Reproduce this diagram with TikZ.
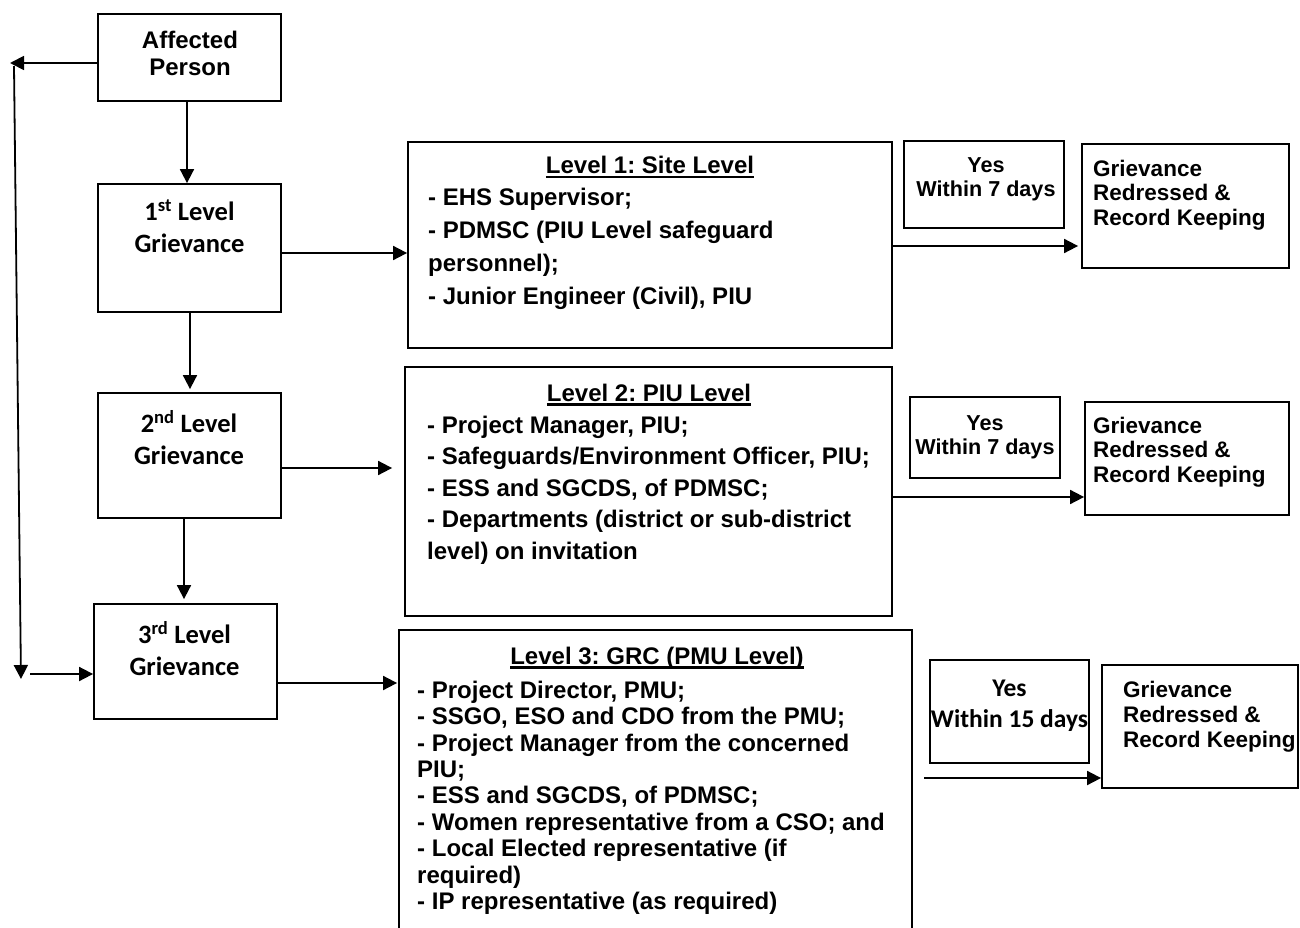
\documentclass[tikz,border=0pt]{standalone}
\usepackage{fontspec}
\setmainfont{Liberation Sans}
\newfontfamily\calfont{Carlito}
\usetikzlibrary{arrows.meta}
\frenchspacing
\newcommand\fl[1]{\rule{0pt}{#1pt}}
\newcommand\ultitle[1]{\setbox0\hbox{#1}\rlap{\rule[-4.5pt]{\wd0}{2.2pt}}\box0}
\begin{document}
\begin{tikzpicture}[x=1pt,y=-1pt,
  box/.style={draw, line width=1.8pt, inner sep=0pt},
  arr/.style={line width=1.8pt, -{Triangle[length=14pt,width=14pt]}},
  atxt/.style={inner sep=0pt, align=center, font=\fontsize{24}{27}\selectfont\bfseries},
  gtxt/.style={inner sep=0pt, align=center, font=\calfont\fontsize{26.5}{32}\selectfont\bfseries},
  ltitle/.style={inner sep=0pt, font=\fontsize{24}{28}\selectfont\bfseries},
  ltxt/.style={inner sep=0pt, align=left, font=\fontsize{24}{#1}\selectfont\bfseries},
  ytxt/.style={inner sep=0pt, align=center, font=\fontsize{21.6}{#1}\selectfont\bfseries},
  ycal/.style={inner sep=0pt, align=center, font=\calfont\fontsize{25.5}{#1}\selectfont\bfseries},
  rtxt/.style={inner sep=0pt, align=left, font=\fontsize{22.5}{#1}\selectfont\bfseries},
]
\useasboundingbox (0,0) rectangle (1300,928);
% boxes
\node[box, minimum width=183pt, minimum height=87pt]  (AP) at (189.5,57.5) {};
\node[box, minimum width=183pt, minimum height=128pt] (G1) at (189.5,248) {};
\node[box, minimum width=183pt, minimum height=125pt] (G2) at (189.5,455.5) {};
\node[box, minimum width=183pt, minimum height=115pt] (G3) at (185.5,661.5) {};
\node[box, minimum width=484pt, minimum height=206pt] (L1) at (650,245) {};
\node[box, minimum width=487pt, minimum height=249pt] (L2) at (648.5,491.5) {};
\node[box, minimum width=513pt, minimum height=305pt] (L3) at (655.5,782.5) {};
\node[box, minimum width=160pt, minimum height=87pt]  (Y1) at (984,184.5) {};
\node[box, minimum width=207pt, minimum height=124pt] (R1) at (1185.5,206) {};
\node[box, minimum width=150pt, minimum height=81pt]  (Y2) at (985,437.5) {};
\node[box, minimum width=204pt, minimum height=113pt] (R2) at (1187,458.5) {};
\node[box, minimum width=159pt, minimum height=103pt] (Y3) at (1009.5,711.5) {};
\node[box, minimum width=196pt, minimum height=123pt] (R3) at (1200,726.5) {};
% texts
\node[atxt, anchor=north] (APt) at (190,29) {\fl{19}Affected\\Person};
\node[gtxt, anchor=north] (G1t) at (189.5,200) {\fl{20}1\textsuperscript{st} Level\\Grievance};
\node[gtxt, anchor=north] (G2t) at (189,410) {\fl{20}2\textsuperscript{nd} Level\\Grievance};
\node[gtxt, anchor=north] (G3t) at (184.5,621) {\fl{20}3\textsuperscript{rd} Level\\Grievance};
\node[ltitle, anchor=base] (L1h) at (650,174) {\ultitle{Level 1: Site Level}};
\node[ltxt=33, anchor=north west] (L1b) at (428,186) {\fl{19}- EHS Supervisor;\\- PDMSC (PIU Level safeguard\\personnel);\\- Junior Engineer (Civil), PIU};
\node[ltitle, anchor=base] (L2h) at (649,401) {\ultitle{Level 2: PIU Level}};
\node[ltxt=31.5, anchor=north west] (L2b) at (427,414) {\fl{19}- Project Manager, PIU;\\- Safeguards/Environment Officer, PIU;\\- ESS and SGCDS, of PDMSC;\\- Departments (district or sub-district\\level) on invitation};
\node[ltitle, anchor=base] (L3h) at (657,664) {\ultitle{Level 3: GRC (PMU Level)}};
\node[ltxt=26.4, anchor=north west] (L3b) at (417,679) {\fl{19}- Project Director, PMU;\\- SSGO, ESO and CDO from the PMU;\\- Project Manager from the concerned\\PIU;\\- ESS and SGCDS, of PDMSC;\\- Women representative from a CSO; and\\- Local Elected representative (if\\required)\\- IP representative (as required)};
\node[ytxt=24, anchor=north] (Y1t) at (986,154.5) {\fl{17.5}Yes\\Within 7 days};
\node[ytxt=24, anchor=north] (Y2t) at (985,412.5) {\fl{17.5}Yes\\Within 7 days};
\node[ycal=31, anchor=north] (Y3t) at (1009.5,677) {\fl{19}Yes\\Within 15 days};
\node[rtxt=24.5, anchor=north west] (R1t) at (1093,158.5) {\fl{17.5}Grievance\\Redressed \&\\Record Keeping};
\node[rtxt=24.5, anchor=north west] (R2t) at (1093,415.5) {\fl{17.5}Grievance\\Redressed \&\\Record Keeping};
\node[rtxt=25, anchor=north west] (R3t) at (1123,679.5) {\fl{17.5}Grievance\\Redressed \&\\Record Keeping};
% connectors
\coordinate (ltip) at (10,63);
\coordinate (ltop) at (14,66);
\coordinate (lbot) at (21,679);
\coordinate (g3in) at (30,674);
\coordinate (l3out) at (924,778);
\draw[arr] (AP.west |- ltip) -- (ltip);
\draw[arr] (ltop) -- (lbot);
\draw[arr] (g3in) -- (g3in -| G3.west);
\draw[arr] ([xshift=-2.5pt]AP.south) -- ([xshift=-2.5pt]AP.south |- G1.north);
\draw[arr, shorten >=3pt] ([xshift=0.5pt]G1.south) -- ([xshift=0.5pt]G1.south |- G2.north);
\draw[arr, shorten >=4pt] ([xshift=-5.5pt]G2.south) -- ([xshift=-5.5pt]G2.south |- G3.north);
\draw[arr] ([yshift=-5pt]G1.east) -- ([yshift=-5pt]G1.east -| L1.west);
\draw[arr, shorten >=12pt] ([yshift=-12.5pt]G2.east) -- ([yshift=-12.5pt]G2.east -| L2.west);
\draw[arr, shorten >=1pt] ([yshift=-21.5pt]G3.east) -- ([yshift=-21.5pt]G3.east -| L3.west);
\draw[arr, shorten >=3pt] ([yshift=-1pt]L1.east) -- ([yshift=-1pt]L1.east -| R1.west);
\draw[arr] ([yshift=-5.5pt]L2.east) -- ([yshift=-5.5pt]L2.east -| R2.west);
\draw[arr] (l3out) -- (l3out -| R3.west);
\end{tikzpicture}
\end{document}
